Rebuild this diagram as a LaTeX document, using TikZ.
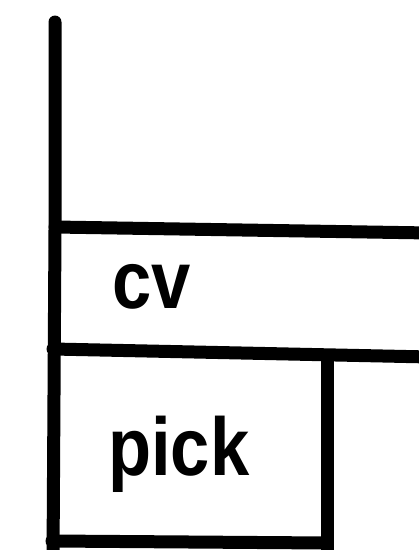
\documentclass[tikz,border=0pt]{standalone}
\usepackage{fontspec}
\newfontfamily\sketchfont{Liberation Sans}
\tikzset{
  pen/.style={line width=13pt, line cap=round, line join=round, black},
  lbl/.style={anchor=base west, inner sep=0pt, font=\sketchfont\bfseries\fontsize{82}{82}\selectfont}
}
\begin{document}
\begin{tikzpicture}[x=1pt,y=-1pt]
\useasboundingbox (0,0) rectangle (419,550);
\clip (0,0) rectangle (419,550);
% left border
\coordinate (lt) at (55,22);
\coordinate (lb) at (53,560);
\draw[pen] (lt) -- (55,230) -- (lb);
% first horizontal
\coordinate (h1l) at (55,227);
\coordinate (h1r) at (430,233);
\draw[pen] (h1l) -- (h1r);
% second horizontal
\coordinate (h2l) at (53,349);
\coordinate (h2r) at (430,357);
\draw[pen] (h2l) -- (h2r);
% pick box right edge and bottom
\coordinate (br) at (327,356);
\coordinate (bb) at (327,560);
\draw[pen] (br) -- (bb);
\coordinate (bl) at (52,541);
\coordinate (bre) at (327,543);
\draw[pen] (bl) -- (bre);
% labels
\node[lbl] (cv) at (112,308) {\scalebox{0.86}[1]{cv}};
\node[lbl] (pick) at (108,475) {\scalebox{0.86}[1]{pick}};
\end{tikzpicture}
\end{document}
